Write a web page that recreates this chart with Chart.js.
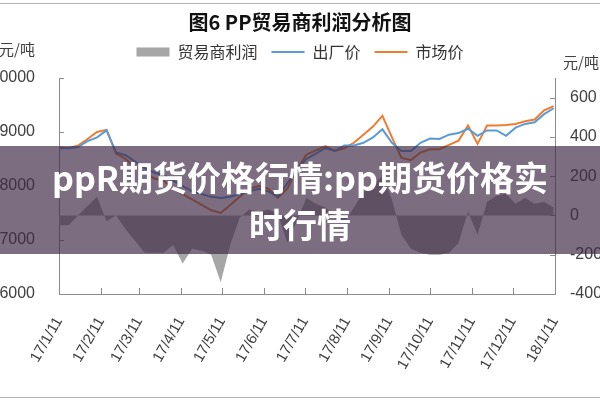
<!DOCTYPE html>
<html>
<head>
<meta charset="utf-8">
<script src="https://cdn.jsdelivr.net/npm/chart.js@4.4.1/dist/chart.umd.min.js"></script>
<style>
  html, body { margin: 0; padding: 0; background: #fff; }
  #wrap { position: relative; width: 600px; height: 400px; overflow: hidden; }
  #frame {
    position: absolute; left: 0; top: 3px; width: 600px; height: 393px;
    border-top: 1px solid #b4b4b4; border-bottom: 1px solid #b4b4b4;
    pointer-events: none;
  }
  #band {
    position: absolute; left: 0; top: 146px; width: 600px; height: 108px;
    background: rgba(62, 40, 70, 0.68);
    color: #fff; font: bold 34px 'Noto Sans CJK SC', sans-serif;
    line-height: 47px; text-align: center;
    display: flex; align-items: center; justify-content: center;
  }
</style>
</head>
<body>
<div id="wrap">
  <canvas id="chart" width="600" height="400"></canvas>
  <div id="frame"></div>
  <div id="band"><div>ppR期货价格行情:pp期货价格实<br>时行情</div></div>
</div>
<script>
// 周度数据 2017/1/11 - 2018/1/10
const dates = [
  '2017-01-11', '2017-01-18', '2017-01-25', '2017-02-01', '2017-02-08', '2017-02-15',
  '2017-02-22', '2017-03-01', '2017-03-08', '2017-03-15', '2017-03-22', '2017-03-29',
  '2017-04-05', '2017-04-12', '2017-04-19', '2017-04-26', '2017-05-03', '2017-05-10',
  '2017-05-17', '2017-05-24', '2017-05-31', '2017-06-07', '2017-06-14', '2017-06-21',
  '2017-06-28', '2017-07-05', '2017-07-12', '2017-07-19', '2017-07-26', '2017-08-02',
  '2017-08-09', '2017-08-16', '2017-08-23', '2017-08-30', '2017-09-06', '2017-09-13',
  '2017-09-20', '2017-09-27', '2017-10-04', '2017-10-11', '2017-10-18', '2017-10-25',
  '2017-11-01', '2017-11-08', '2017-11-15', '2017-11-22', '2017-11-29', '2017-12-06',
  '2017-12-13', '2017-12-20', '2017-12-27', '2018-01-03', '2018-01-10'
];

// 出厂价 (元/吨)
const factoryPrice = [
  8700, 8700, 8720, 8830, 8900, 9030, 8620, 8570, 8450, 8330, 8250, 8200,
  8100, 8000, 7900, 7850, 7800, 7780, 7800, 7850, 7900, 7950, 7900, 7800,
  8050, 8300, 8500, 8600, 8700, 8650, 8750, 8750, 8800, 8900, 9050, 8800,
  8650, 8650, 8800, 8880, 8870, 8950, 8980, 9060, 8930, 9030, 9030, 8930,
  9080, 9150, 9180, 9330, 9440
];

// 市场价 (元/吨)
const marketPrice = [
  8720, 8700, 8750, 8870, 9000, 9040, 8600, 8500, 8350, 8250, 8140, 8100,
  7950, 7850, 7750, 7650, 7550, 7500, 7650, 7800, 7950, 8000, 7950, 7780,
  7950, 8300, 8580, 8660, 8740, 8650, 8700, 8800, 8950, 9100, 9300, 8900,
  8520, 8480, 8620, 8680, 8680, 8760, 8840, 9120, 8780, 9120, 9120, 9130,
  9150, 9200, 9230, 9400, 9480
];

// 贸易商利润 (元/吨, 右轴)
const traderProfit = [
  -50, -50, 0, 50, 95, -30, 0, -70, -130, -190, -190, -190,
  -150, -245, -170, -180, -200, -340, -150, -10, 30, 20, 30, 10,
  -140, -30, 90, 60, 40, 0, -40, 40, 120, 160, 200, 80,
  -100, -170, -190, -200, -200, -190, -140, 20, -100, 70, 100, 110,
  60, 90, 60, 70, 40
];

const tickDates = [
  '2017-01-11', '2017-02-11', '2017-03-11', '2017-04-11', '2017-05-11', '2017-06-11', '2017-07-11',
  '2017-08-11', '2017-09-11', '2017-10-11', '2017-11-11', '2017-12-11', '2018-01-11'
];
const tickLabels = [
  '17/1/11', '17/2/11', '17/3/11', '17/4/11', '17/5/11', '17/6/11', '17/7/11',
  '17/8/11', '17/9/11', '17/10/11', '17/11/11', '17/12/11', '18/1/11'
];
const leftTicks = [6000, 7000, 8000, 9000, 10000];
const rightTicks = [-400, -200, 0, 200, 400, 600];

const seriesNames = ['贸易商利润', '出厂价', '市场价'];
const unitLabel = '元/吨';

const day0 = Date.UTC(2017, 0, 11);
function dayOf(s) {
  const [y, m, d] = s.split('-').map(Number);
  return (Date.UTC(y, m - 1, d) - day0) / 86400000;
}
function toPoints(values) {
  return dates.map((d, i) => ({ x: dayOf(d), y: values[i] }));
}

const axisColor = '#8c8c8c';
const textColor = '#404040';
const numFont = { family: "'Liberation Sans', Arial, sans-serif", size: 16 };
const cjkFont = "'Noto Sans CJK SC', sans-serif";

// 刻度线朝内 + 单位文字
const decorPlugin = {
  id: 'decor',
  beforeLayout(chart) {
    // 图例下方多留一点空间
    const lg = chart.legend;
    if (lg && !lg._extraGap) {
      const fit = lg.fit.bind(lg);
      lg.fit = function () { fit(); this.height += 8; };
      lg._extraGap = true;
    }
  },
  afterDraw(chart) {
    const ctx = chart.ctx;
    const { x, y, y1 } = chart.scales;
    const area = chart.chartArea;
    ctx.save();
    ctx.strokeStyle = axisColor;
    ctx.lineWidth = 1;
    ctx.beginPath();
    x.ticks.forEach(t => {
      const px = Math.round(x.getPixelForValue(t.value)) + 0.5;
      ctx.moveTo(px, area.bottom);
      ctx.lineTo(px, area.bottom - 6);
    });
    y.ticks.forEach(t => {
      const py = Math.round(y.getPixelForValue(t.value)) + 0.5;
      ctx.moveTo(area.left, py);
      ctx.lineTo(area.left + 5, py);
    });
    y1.ticks.forEach(t => {
      const py = Math.round(y1.getPixelForValue(t.value)) + 0.5;
      ctx.moveTo(area.right, py);
      ctx.lineTo(area.right - 5, py);
    });
    ctx.stroke();

    ctx.fillStyle = textColor;
    ctx.font = '15px ' + cjkFont;
    ctx.textBaseline = 'middle';
    ctx.textAlign = 'right';
    ctx.fillText(unitLabel, area.left - 24, area.top - 29);
    ctx.textAlign = 'left';
    ctx.fillText(unitLabel, area.right + 8, area.top - 16);
    ctx.restore();
  }
};

new Chart(document.getElementById('chart'), {
  type: 'line',
  data: {
    datasets: [
      {
        label: seriesNames[0],
        data: toPoints(traderProfit),
        yAxisID: 'y1',
        fill: 'origin',
        backgroundColor: '#a6a6a6',
        borderWidth: 0,
        pointRadius: 0,
        order: 2
      },
      {
        label: seriesNames[1],
        data: toPoints(factoryPrice),
        yAxisID: 'y',
        borderColor: '#5b9bd5',
        borderWidth: 2,
        pointRadius: 0,
        fill: false,
        order: 1
      },
      {
        label: seriesNames[2],
        data: toPoints(marketPrice),
        yAxisID: 'y',
        borderColor: '#ed7d31',
        borderWidth: 2,
        pointRadius: 0,
        fill: false,
        order: 1
      }
    ]
  },
  options: {
    responsive: false,
    animation: false,
    layout: { padding: 0 },
    plugins: {
      title: {
        display: true,
        text: '图6 PP贸易商利润分析图',
        color: '#111',
        font: { family: cjkFont, size: 20, weight: 'bold' },
        padding: { top: 10, bottom: -4 }
      },
      legend: {
        position: 'top',
        labels: {
          color: '#333',
          font: { family: cjkFont, size: 16 },
          usePointStyle: true,
          pointStyleWidth: 33,
          boxHeight: 9,
          padding: 14,
          generateLabels: (chart) => chart.data.datasets.map((ds, i) => ({
            text: ds.label,
            datasetIndex: i,
            pointStyle: i === 0 ? 'rect' : 'line',
            fillStyle: i === 0 ? ds.backgroundColor : ds.borderColor,
            strokeStyle: i === 0 ? ds.backgroundColor : ds.borderColor,
            lineWidth: i === 0 ? 0 : 2,
            fontColor: '#333',
            hidden: false
          }))
        }
      },
      tooltip: { enabled: false }
    },
    scales: {
      x: {
        type: 'linear',
        min: 0,
        max: dayOf('2018-01-11'),
        afterBuildTicks: (s) => { s.ticks = tickDates.map(d => ({ value: dayOf(d) })); },
        afterFit: (s) => { s.height = 106; },
        ticks: {
          autoSkip: false,
          minRotation: 60,
          maxRotation: 60,
          padding: 20,
          color: textColor,
          font: { family: numFont.family, size: 15 },
          callback: (v, i) => tickLabels[i]
        },
        grid: { drawOnChartArea: false, drawTicks: false },
        border: { display: true, color: axisColor }
      },
      y: {
        position: 'left',
        min: 6000,
        max: 10000,
        afterBuildTicks: (s) => { s.ticks = leftTicks.map(v => ({ value: v })); },
        afterFit: (s) => { s.width = 59; },
        ticks: { padding: 24, color: textColor, font: numFont, callback: (v) => String(v) },
        grid: { drawOnChartArea: false, drawTicks: false },
        border: { display: true, color: axisColor }
      },
      y1: {
        position: 'right',
        min: -400,
        max: 700,
        afterBuildTicks: (s) => { s.ticks = rightTicks.map(v => ({ value: v })); },
        afterFit: (s) => { s.width = 45; },
        ticks: { padding: 15, color: textColor, font: numFont, callback: (v) => String(v) },
        grid: { drawOnChartArea: false, drawTicks: false },
        border: { display: true, color: axisColor }
      }
    }
  },
  plugins: [decorPlugin]
});
</script>
</body>
</html>
